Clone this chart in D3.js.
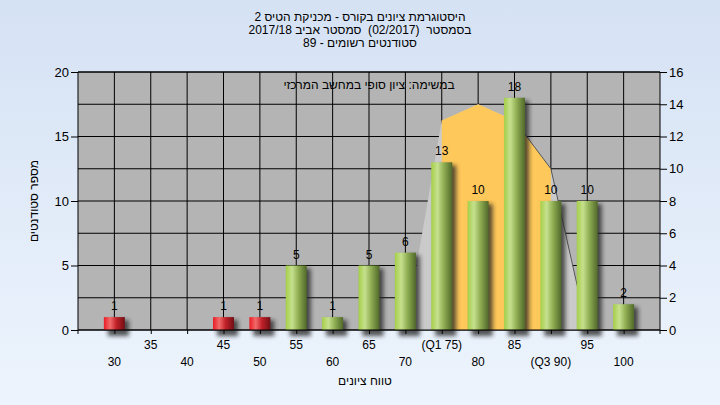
<!DOCTYPE html>
<html><head><meta charset="utf-8">
<script src="https://cdn.jsdelivr.net/npm/d3@7"></script>
<style>html,body{margin:0;padding:0;} svg{display:block;}</style>
</head><body>
<script>
const categories = [30,35,40,45,50,55,60,65,70,75,80,85,90,95,100];
const tickLabels = ["30","35","40","45","50","55","60","65","70","(Q1 75)","80","85","(Q3 90)","95","100"];
const counts = [1,0,0,1,1,5,1,5,6,13,10,18,10,10,2];
const curveCats = [70,75,80,85,90,95];
const curveVals = [0,13,14,13,10,0];
const q1 = 75, q3 = 90, passMark = 55;
const leftTicks = [0,5,10,15,20];
const rightTicks = [0,2,4,6,8,10,12,14,16];
const titleLines = ["היסטוגרמת ציונים בקורס - מכניקת הטיס 2","בסמסטר  (02/2017)  סמסטר אביב 2017/18","סטודנטים רשומים - 89"];
const subTitle = "במשימה: ציון סופי במחשב המרכזי";
const yTitle = "מספר סטודנטים";
const xTitle = "טווח ציונים";

const W=720,H=405, L=78,R=660,T=72,B=330;
const svg=d3.select("body").append("svg").attr("width",W).attr("height",H);
const defs=svg.append("defs");
const bg=defs.append("linearGradient").attr("id","bg").attr("x1",0).attr("y1",0).attr("x2",0).attr("y2",1);
bg.append("stop").attr("offset","0").attr("stop-color","#d5e2f4");
bg.append("stop").attr("offset","1").attr("stop-color","#edf4fd");
function grad(id,c){const g=defs.append("linearGradient").attr("id",id).attr("x1",0).attr("x2",1).attr("y1",0).attr("y2",0);
 c.forEach(([o,col])=>g.append("stop").attr("offset",o).attr("stop-color",col));}
grad("green",[[0,"#a4cf48"],[0.3,"#c6e08e"],[0.6,"#8fae52"],[1,"#50682a"]]);
grad("red",[[0,"#e81c24"],[0.3,"#f26a6a"],[0.6,"#c02028"],[1,"#701015"]]);
const f=defs.append("filter").attr("id","blur").attr("x","-50%").attr("y","-50%").attr("width","200%").attr("height","200%");
f.append("feGaussianBlur").attr("stdDeviation",2);

svg.append("rect").attr("width",W).attr("height",H).attr("fill","url(#bg)");

const x=d3.scalePoint().domain(categories).range([L,R]).padding(1);
const yL=d3.scaleLinear().domain([0,20]).range([B,T]);
const yR=d3.scaleLinear().domain([0,16]).range([B,T]);

svg.append("rect").attr("x",L).attr("y",T).attr("width",R-L).attr("height",B-T).attr("fill","#b4b4b4");

// grid
const g=svg.append("g");
g.selectAll("line.h").data(rightTicks).join("line").attr("x1",L).attr("x2",R).attr("y1",d=>yR(d)).attr("y2",d=>yR(d)).attr("stroke","#000");
g.selectAll("line.v").data(categories).join("line").attr("x1",d=>x(d)).attr("x2",d=>x(d)).attr("y1",T).attr("y2",B).attr("stroke","#000");

// curve areas
const pts=curveCats.map((c,i)=>[c,curveVals[i]]);
const area=d3.area().x(d=>x(d[0])).y0(B).y1(d=>yR(d[1]));
svg.append("path").attr("d",area(pts)).attr("fill","#cacaca");
svg.append("path").attr("d",area(pts.filter(d=>d[0]>=q1&&d[0]<=q3))).attr("fill","#ffc85a");
svg.append("path").attr("d",d3.line().x(d=>x(d[0])).y(d=>yR(d[1]))(pts.filter(d=>d[0]>=85))).attr("fill","none").attr("stroke","#555").attr("stroke-width",1);

// bars
const bw=21;
const bars=categories.map((c,i)=>({c,v:counts[i]})).filter(d=>d.v>0);
svg.append("g").selectAll("rect").data(bars).join("rect")
 .attr("x",d=>x(d.c)-bw/2+4).attr("y",d=>yL(d.v)+3).attr("width",bw).attr("height",d=>B-yL(d.v)+3)
 .attr("fill","#202020").attr("opacity",0.75).attr("filter","url(#blur)");
svg.append("g").selectAll("rect").data(bars).join("rect")
 .attr("x",d=>x(d.c)-bw/2).attr("y",d=>yL(d.v)).attr("width",bw).attr("height",d=>B-yL(d.v))
 .attr("fill",d=>d.c<passMark?"url(#red)":"url(#green)");
svg.append("g").selectAll("text").data(bars).join("text")
 .attr("x",d=>x(d.c)).attr("y",d=>yL(d.v)-7).attr("text-anchor","middle")
 .attr("font-family","Liberation Sans, Arial, sans-serif").attr("font-size",12).attr("fill","#000").text(d=>d.v);

// axes
const font="Liberation Sans, Arial, sans-serif";
const axL=svg.append("g").attr("transform",`translate(${L},0)`).call(d3.axisLeft(yL).tickValues(leftTicks).tickSize(7).tickPadding(2));
const axR=svg.append("g").attr("transform",`translate(${R},0)`).call(d3.axisRight(yR).tickValues(rightTicks).tickSize(7).tickPadding(2));
const axB=svg.append("g").attr("transform",`translate(0,${B})`).call(d3.axisBottom(x).tickSize(4).tickFormat(""));
[axL,axR,axB].forEach(a=>{a.select(".domain").remove();a.selectAll("line").attr("stroke","#000");
 a.selectAll("text").attr("font-family",font).attr("font-size",13).attr("fill","#000");});
svg.append("line").attr("x1",L).attr("x2",L).attr("y1",T).attr("y2",B+4).attr("stroke","#000");
svg.append("line").attr("x1",R).attr("x2",R).attr("y1",T).attr("y2",B+4).attr("stroke","#000");
svg.append("line").attr("x1",L).attr("x2",R).attr("y1",B).attr("y2",B).attr("stroke","#000");
svg.append("line").attr("x1",L).attr("x2",R).attr("y1",T).attr("y2",T).attr("stroke","#000");

svg.append("g").selectAll("text").data(categories).join("text")
 .attr("x",d=>x(d)).attr("y",(d,i)=>i%2?349:366).attr("text-anchor","middle")
 .attr("font-family",font).attr("font-size",12).attr("fill","#000").text((d,i)=>tickLabels[i]);

// titles
svg.append("g").selectAll("text").data(titleLines).join("text")
 .attr("x",360).attr("y",(d,i)=>21+i*13).attr("text-anchor","middle").attr("direction","rtl")
 .attr("font-family",font).attr("font-size",12).attr("fill","#000").style("white-space","pre").style("unicode-bidi","plaintext").text(d=>d);
svg.append("text").attr("x",(L+R)/2).attr("y",89).attr("text-anchor","middle").attr("font-family",font).attr("font-size",12).attr("fill","#000").text(subTitle);
svg.append("text").attr("transform","translate(38,201) rotate(-90)").attr("text-anchor","middle").attr("font-family",font).attr("font-size",12).attr("fill","#000").text(yTitle);
svg.append("text").attr("x",365).attr("y",385).attr("text-anchor","middle").attr("font-family",font).attr("font-size",12).attr("fill","#000").text(xTitle);
</script>
</body></html>
